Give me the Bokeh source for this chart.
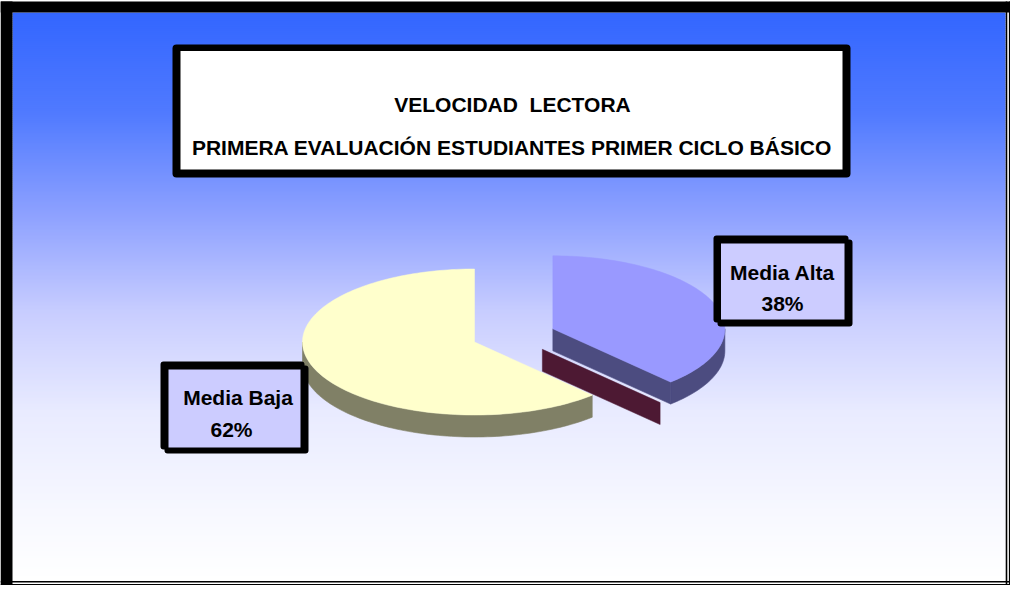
import numpy as np
from bokeh.plotting import figure
from bokeh.models import Range1d
from bokeh.embed import file_html
from bokeh.resources import INLINE
from bokeh.core.properties import value

# ---------------- data ----------------
title_lines = ["VELOCIDAD \u00a0LECTORA",
               "PRIMERA EVALUACIÓN ESTUDIANTES PRIMER CICLO BÁSICO"]
categories = ["Media Baja", "Media Alta"]
percentages = [62, 38]
explode = [0.0, 0.49]

# ---------------- style ----------------
top_colors = ["#FFFFCC", "#9999FF"]
side_colors = ["#808066", "#4C4C80"]
ghost_color = "#4D1933"
label_fill = "#CCCCFF"
FONT = "Liberation Sans"

W, H = 1010, 585
X0, Y0 = 8, 8

p = figure(width=W, height=H, x_range=Range1d(X0, X0 + W), y_range=Range1d(Y0 + H, Y0),
           output_backend="svg", toolbar_location=None, min_border=0,
           x_axis_location=None, y_axis_location=None)
p.grid.visible = False
p.outline_line_color = None
p.background_fill_color = "white"
p.border_fill_color = "white"

# ---------------- frame + gradient background ----------------
bg_l, bg_r, bg_t, bg_b = 20, 1013, 20, 588
stop_y = np.array([20, 120, 220, 320, 420, 520, 588], dtype=float)
stop_c = np.array([[51, 102, 255], [80, 122, 255], [140, 160, 255], [200, 205, 255],
                   [233, 235, 255], [247, 248, 255], [255, 255, 255]], dtype=float)
band = 2
tops = np.arange(bg_t, bg_b, band, dtype=float)
mids = tops + band / 2
cols = []
for m in mids:
    r = np.interp(m, stop_y, stop_c[:, 0])
    g = np.interp(m, stop_y, stop_c[:, 1])
    b = np.interp(m, stop_y, stop_c[:, 2])
    cols.append("#%02x%02x%02x" % (int(round(r)), int(round(g)), int(round(b))))
p.quad(left=bg_l, right=bg_r, top=tops, bottom=np.minimum(tops + band + 0.6, bg_b),
       fill_color=cols, line_color=None)

p.quad(left=[8, 8], right=[20, 1018], top=[9, 9], bottom=[593, 20],
       fill_color="black", line_color=None)
p.segment(x0=[1014, 1017.2], y0=[9, 9], x1=[1014, 1017.2], y1=[593, 593],
          line_color="black", line_width=1.6)
p.segment(x0=[8, 8], y0=[589.3, 592.3], x1=[1018, 1018], y1=[589.3, 592.3],
          line_color="black", line_width=1.6)

# ---------------- title box ----------------
p.quad(left=180, right=858, top=52, bottom=185, fill_color="black", line_color=None,
       border_radius=4)
p.quad(left=188, right=850, top=58.5, bottom=177, fill_color="white", line_color=None)
p.text(x=[520, 519.5], y=[111.5, 155], text=title_lines, text_font=value(FONT),
       text_font_style="bold", text_font_size="21px", text_align="center",
       text_baseline="alphabetic", text_color="black")

# ---------------- 3D pie ----------------
cx, cy = 482.0, 349.5
rx, ry = 172.0, 73.0
depth = 22.0
start_angle = 90.0
ghost_offset = (-10.5, 20.5)


def pt(ox, oy, ang_deg):
    a = np.radians(ang_deg)
    return ox + rx * np.cos(a), oy - ry * np.sin(a)


def arc(ox, oy, a0, a1, n=None):
    if n is None:
        n = max(int(abs(a1 - a0) / 1.5) + 2, 3)
    angs = np.linspace(a0, a1, n)
    xs = ox + rx * np.cos(np.radians(angs))
    ys = oy - ry * np.sin(np.radians(angs))
    return xs, ys


cum = 0.0
slices = []
for cat, pct, ex in zip(categories, percentages, explode):
    a0 = start_angle + cum * 3.6
    a1 = a0 + pct * 3.6
    cum += pct
    mid = np.radians((a0 + a1) / 2)
    ox = cx + ex * rx * np.cos(mid)
    oy = cy - ex * ry * np.sin(mid)
    slices.append((a0, a1, ox, oy))

for i, (a0, a1, ox, oy) in enumerate(slices):
    # visible outer rim (front half: 180..360 deg)
    for k in range(-1, 3):
        lo = max(a0, 180 + 360 * k)
        hi = min(a1, 360 + 360 * k)
        if hi > lo:
            xs, ys = arc(ox, oy, lo, hi)
            px = np.concatenate([xs, xs[::-1]])
            py = np.concatenate([ys, ys[::-1] + depth])
            p.patch(px, py, fill_color=side_colors[i], line_color=side_colors[i], line_width=0.6)
    # visible cut faces
    faces = []
    if np.sin(np.radians(a0 - 90)) < -1e-6:
        faces.append(a0)
    if np.sin(np.radians(a1 + 90)) < -1e-6:
        faces.append(a1)
    for fa in faces:
        ex_, ey_ = pt(ox, oy, fa)
        if i == 1:
            gx, gy = ghost_offset
            p.patch([ox + gx, ex_ + gx, ex_ + gx, ox + gx],
                    [oy + gy, ey_ + gy, ey_ + gy + depth, oy + gy + depth],
                    fill_color=ghost_color, line_color=ghost_color, line_width=0.5)
        p.patch([ox, ex_, ex_, ox], [oy, ey_, ey_ + depth, oy + depth],
                fill_color=side_colors[i], line_color=side_colors[i], line_width=0.6)
    # top
    xs, ys = arc(ox, oy, a0, a1)
    p.patch(np.concatenate([[ox], xs]), np.concatenate([[oy], ys]),
            fill_color=top_colors[i], line_color=top_colors[i], line_width=0.5)

# ---------------- data labels ----------------
label_boxes = {
    "Media Baja": dict(outer=(168, 312, 369, 457), shadow=(172, 316, 373, 461),
                       inner=(176, 308, 377, 455), tx=(245.5, 239), ty=(405, 437)),
    "Media Alta": dict(outer=(721, 856, 243, 330), shadow=(725, 860, 247, 334),
                       inner=(728.5, 852, 251, 327), tx=(790, 790), ty=(280, 310.5)),
}
for cat, pct in zip(categories, percentages):
    b = label_boxes[cat]
    l, r, t, bt = b["shadow"]
    p.quad(left=l, right=r, top=t, bottom=bt, fill_color="black", line_color=None, border_radius=3)
    l, r, t, bt = b["outer"]
    p.quad(left=l, right=r, top=t, bottom=bt, fill_color="black", line_color=None, border_radius=3)
    l, r, t, bt = b["inner"]
    p.quad(left=l, right=r, top=t, bottom=bt, fill_color=label_fill, line_color=None)
    p.text(x=list(b["tx"]), y=list(b["ty"]), text=[cat, f"{pct}%"], text_font=value(FONT),
           text_font_style="bold", text_font_size="21px", text_align="center",
           text_baseline="alphabetic", text_color="black")

open("out.html", "w").write(file_html(p, INLINE))
